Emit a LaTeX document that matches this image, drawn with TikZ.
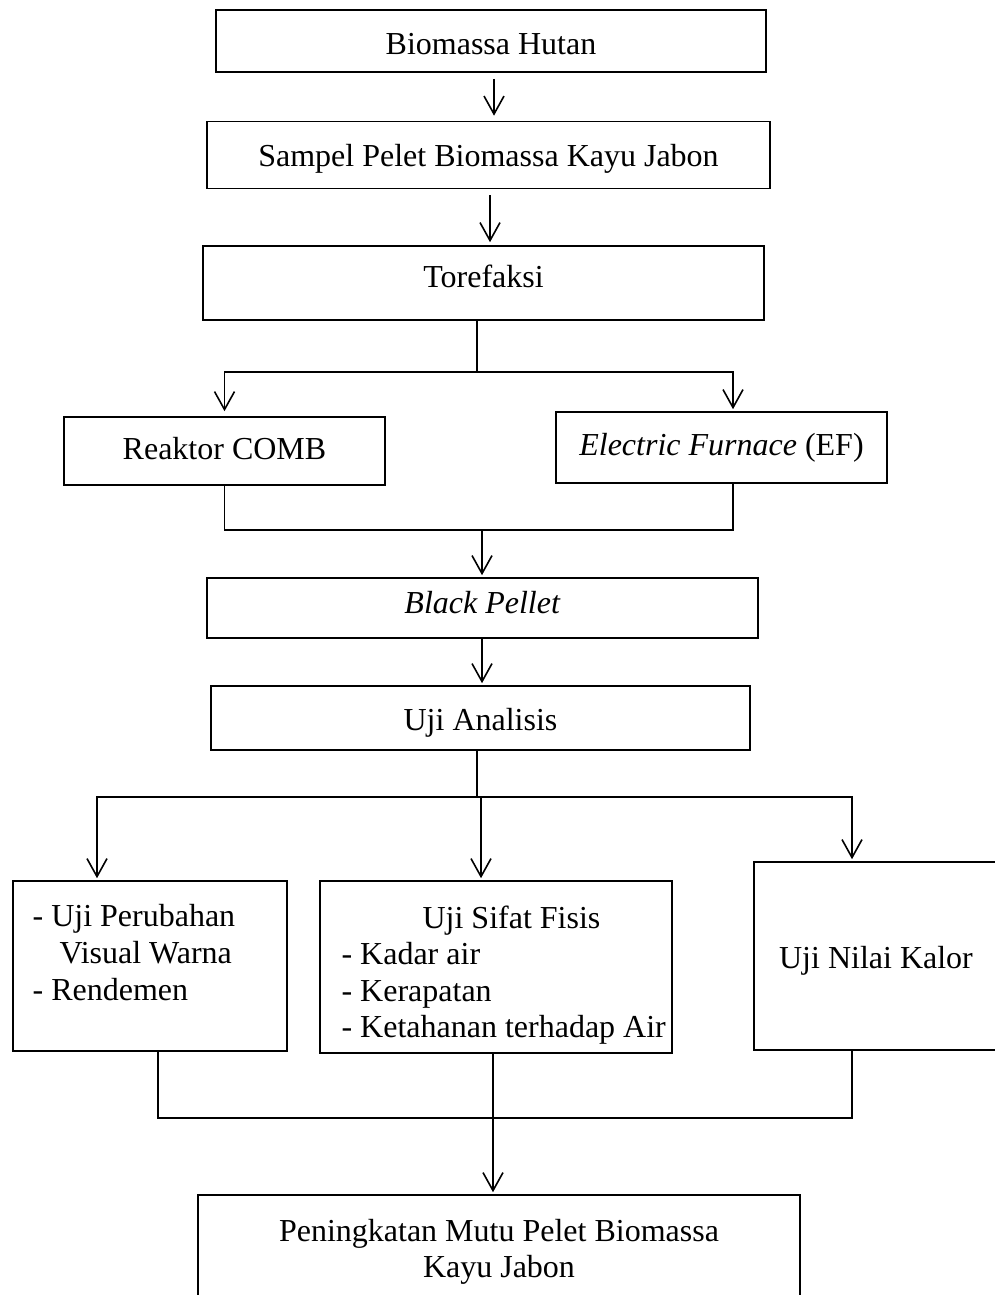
\documentclass[tikz,border=0pt]{standalone}
\usepackage{fontspec}
\setmainfont{Liberation Serif}
\usetikzlibrary{calc,arrows.meta}

\begin{document}
\begin{tikzpicture}[x=0.5pt, y=-0.5pt,
        box/.style={draw, line width=0.8pt, inner sep=0pt, font=\fontsize{16pt}{18pt}\selectfont},
        txt/.style={inner sep=0pt, align=left, anchor=north west, font=\fontsize{16pt}{18.3pt}\selectfont},
        wire/.style={line width=0.8pt},
        arr/.style={wire, -{Straight Barb[length=9pt,width=10pt,line width=0.8pt]}}]
        \clip (0,0) rectangle (995,1295);

        % Upper chain
        \node (Bio) at (491,41) [box, minimum width=275pt, minimum height=31pt, text height=13.8pt, text depth=0pt] {Biomassa Hutan};
        \node (Sampel) at (488.5,155) [box, minimum width=281.5pt, minimum height=33.5pt, text height=14.8pt, text depth=3.5pt] {Sampel Pelet Biomassa Kayu Jabon};
        \node (Toref) at (483.5,283) [box, minimum width=280.5pt, minimum height=37pt, text height=10.8pt, text depth=6pt] {Torefaksi};

        % Two reactors
        \node (Reaktor) at (224.5,451) [box, minimum width=160.5pt, minimum height=34pt, text height=10.8pt, text depth=2pt] {Reaktor COMB};
        \node (EF) at (721.5,447.5) [box, minimum width=165.5pt, minimum height=35.5pt] {\textit{Electric Furnace} (EF)};

        % Product and tests
        \node (Black) at (482.5,608) [box, minimum width=275.5pt, minimum height=30pt, text height=10.8pt, text depth=5pt] {\textit{Black Pellet}};
        \node (Analisis) at (480.5,718) [box, minimum width=269.5pt, minimum height=32pt, text height=15.8pt, text depth=3.5pt] {Uji Analisis};

        % Three test boxes
        \node (Visual) at (150,966) [box, minimum width=137pt, minimum height=85pt] {};
        \node at ($(Visual.north west) + (20,24)$) [txt] {- Uji Perubahan\\\hspace*{13.5pt}Visual Warna\\- Rendemen};

        \node (Fisis) at (496,967) [box, minimum width=176pt, minimum height=86pt] {};
        \node at ($(Fisis.north west) + (22,25)$) [txt] {\hspace*{40.5pt}Uji Sifat Fisis\\- Kadar air\\- Kerapatan\\- Ketahanan terhadap Air};

        \node (Kalor) at (876,956) [box, minimum width=122pt, minimum height=94pt, text height=15.8pt, text depth=3.5pt] {Uji Nilai Kalor};

        % Final
        \node (Mutu) at (499,1252) [box, minimum width=301pt, minimum height=57pt, align=center] {Peningkatan Mutu Pelet Biomassa\\Kayu Jabon};

        % Connectors
        \coordinate (a1) at (494,0);
        \coordinate (a2) at (490,0);
        \draw [arr, shorten <=3pt, shorten >=2.5pt] (Bio.south -| a1) -- (Sampel.north -| a1);
        \draw [arr, shorten <=3pt, shorten >=1.5pt] (Sampel.south -| a2) -- (Toref.north -| a2);

        \coordinate (Split1) at (477,372);
        \coordinate (EFin) at ($(EF.north) + (11.5,0)$);
        \draw [wire] (Toref.south -| Split1) -- (Split1);
        \draw [arr, shorten >=2.5pt] (Split1) -| (Reaktor.north);
        \draw [arr, shorten >=1pt] (Split1) -| (EFin);

        \coordinate (Join1) at (482,530);
        \coordinate (EFout) at ($(EF.south) + (11.5,0)$);
        \draw [wire] (Reaktor.south) |- (EFout |- Join1) -- (EFout);
        \draw [arr, shorten >=1pt] (Join1) -- (Black.north -| Join1);
        \draw [arr, shorten >=1pt] (Black.south -| Join1) -- (Analisis.north -| Join1);

        \coordinate (Split2) at (477,797);
        \coordinate (Vin) at (97,0);
        \coordinate (Fin) at (481,0);
        \coordinate (Kin) at (852,0);
        \draw [wire] (Analisis.south -| Split2) -- (Split2);
        \draw [arr, shorten >=1pt] (Split2) -| (Visual.north -| Vin);
        \draw [arr, shorten >=1pt] (Split2 -| Fin) -- (Fisis.north -| Fin);
        \draw [arr, shorten >=1pt] (Split2) -| (Kalor.north -| Kin);

        \coordinate (Join2) at (493,1118);
        \coordinate (Vout) at (158,0);
        \draw [wire] (Visual.south -| Vout) |- (Kin |- Join2) -- (Kalor.south -| Kin);
        \draw [arr, shorten >=1pt] (Fisis.south -| Join2) -- (Mutu.north -| Join2);

    \end{tikzpicture}
\end{document}
